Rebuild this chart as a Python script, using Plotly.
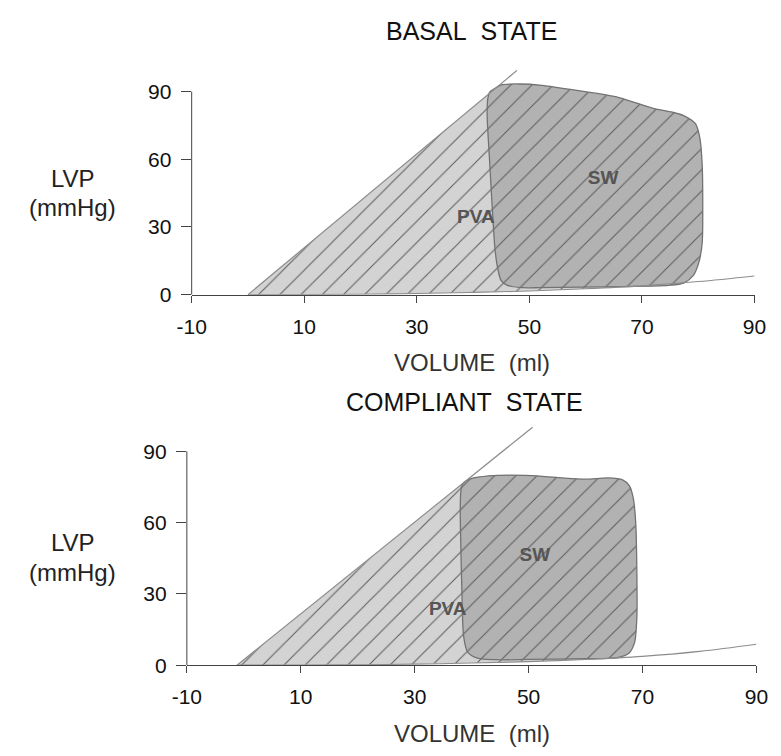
import plotly.graph_objects as go

# ---------------- data ----------------
x_ticks = [-10, 10, 30, 50, 70, 90]
x_tick_labels = ["-10", "10", "30", "50", "70", "90"]
y_ticks = [0, 30, 60, 90]
y_tick_labels = ["0", "30", "60", "90"]

# BASAL STATE
basal_v0 = 0.0            # ESPVR volume intercept (ml)
basal_ees = 2.08          # ESPVR slope (mmHg/ml)
basal_espvr_end = 47.8    # volume where drawn ESPVR line stops
basal_loop_v = [43.6, 45.0, 48.2, 52.2, 59.0, 65.9, 72.0, 75.4, 77.4, 79.5, 80.3, 80.7,
                80.8, 80.7, 80.1, 79.1, 77.4, 74.7, 66.0, 59.0, 52.0, 48.8, 46.1, 45.0,
                44.4, 43.9, 43.4, 42.9, 42.5, 42.6, 43.0]
basal_loop_p = [91.0, 93.0, 93.4, 92.8, 90.3, 87.4, 82.6, 80.9, 79.4, 75.8, 69.3, 57.7,
                40.0, 22.9, 14.2, 8.4, 5.1, 4.1, 3.6, 3.3, 3.1, 3.1, 4.1, 6.2,
                11.3, 20.0, 38.8, 60.6, 79.4, 86.7, 90.0]
basal_edpvr_v = [0, 10, 20, 30, 40, 50, 60, 70, 80, 90]
basal_edpvr_p = [0.0, 0.05, 0.2, 0.5, 1.0, 1.6, 2.6, 3.9, 5.8, 8.3]
basal_pva_label = (40.5, 34)
basal_sw_label = (63.1, 51)

# COMPLIANT STATE
comp_v0 = -1.2
comp_ees = 1.93
comp_espvr_end = 50.7
comp_loop_v = [38.4, 40.0, 43.0, 47.0, 52.0, 56.0, 60.0, 64.0, 66.5, 67.7, 68.4, 68.8,
               69.0, 69.0, 68.6, 67.6, 65.6, 60.0, 50.0, 44.0, 41.0, 39.3, 38.6, 38.3,
               38.1, 38.0, 38.1]
comp_loop_p = [76.2, 78.6, 79.7, 80.0, 79.6, 78.8, 78.3, 78.8, 78.0, 75.5, 70.0, 60.0,
               40.0, 20.0, 9.5, 5.0, 3.2, 2.7, 2.4, 2.3, 3.0, 5.5, 12.0, 30.0,
               50.0, 65.0, 73.0]
comp_edpvr_v = [-1.2, 10, 20, 30, 40, 50, 60, 70, 80, 90]
comp_edpvr_p = [0.0, 0.05, 0.2, 0.45, 0.9, 1.5, 2.4, 3.7, 5.8, 8.8]
comp_pva_label = (35.8, 23)
comp_sw_label = (51.1, 46)

# ---------------- styling ----------------
FONT = "Liberation Sans, Arial, Helvetica, sans-serif"
LIGHT = "#d3d3d3"
DARK = "#b2b2b2"
HATCH = "#5c5c5c"
OUTLINE = "#727272"
CURVE = "#8c8c8c"
W, H = 781, 756

fig = go.Figure()


def add_panel(xa, ya, v0, ees, v_end, lv, lp, ev, ep, pva_lab, sw_lab):
    lv = list(lv); lp = list(lp)
    # bottom-right corner of the loop: right-most low-pressure point
    low = [i for i in range(len(lv)) if lp[i] < 10]
    k = max(low, key=lambda i: lv[i])
    # PVA polygon: ESPVR up to the end-systolic corner, down the loop's left
    # edge and along its bottom, then back along the EDPVR
    order = [0] + list(range(len(lv) - 1, k - 1, -1))
    px = [v0] + [lv[i] for i in order]
    py = [0.0] + [lp[i] for i in order]
    back = [(v, p) for v, p in zip(ev, ep) if v < lv[k]][::-1]
    px += [b[0] for b in back]
    py += [b[1] for b in back]
    pat = dict(shape="/", size=15, solidity=0.068, fgcolor=HATCH, fillmode="replace")
    fig.add_trace(go.Scatter(x=px, y=py, mode="lines", fill="toself",
                             line=dict(width=0, color=LIGHT),
                             fillpattern=dict(pat, bgcolor=LIGHT),
                             xaxis=xa, yaxis=ya, hoverinfo="skip", showlegend=False))
    fig.add_trace(go.Scatter(x=lv + [lv[0]], y=lp + [lp[0]], mode="lines", fill="toself",
                             line=dict(width=1.3, color=OUTLINE, shape="spline", smoothing=0.8),
                             fillpattern=dict(pat, bgcolor=DARK),
                             xaxis=xa, yaxis=ya, hoverinfo="skip", showlegend=False))
    # ESPVR line
    fig.add_trace(go.Scatter(x=[v0, v_end], y=[0, ees * (v_end - v0)], mode="lines",
                             line=dict(width=1.2, color=CURVE),
                             xaxis=xa, yaxis=ya, hoverinfo="skip", showlegend=False))
    # EDPVR curve
    fig.add_trace(go.Scatter(x=ev, y=ep, mode="lines",
                             line=dict(width=1.1, color=CURVE, shape="spline"),
                             xaxis=xa, yaxis=ya, hoverinfo="skip", showlegend=False))
    # labels
    fig.add_trace(go.Scatter(x=[pva_lab[0], sw_lab[0]], y=[pva_lab[1], sw_lab[1]],
                             mode="text", text=["<b>PVA</b>", "<b>SW</b>"],
                             textfont=dict(family=FONT, size=19, color="#555555"),
                             xaxis=xa, yaxis=ya, hoverinfo="skip", showlegend=False))


add_panel("x", "y", basal_v0, basal_ees, basal_espvr_end, basal_loop_v, basal_loop_p,
          basal_edpvr_v, basal_edpvr_p, basal_pva_label, basal_sw_label)
add_panel("x2", "y2", comp_v0, comp_ees, comp_espvr_end, comp_loop_v, comp_loop_p,
          comp_edpvr_v, comp_edpvr_p, comp_pva_label, comp_sw_label)

# panel geometry (pixels)
top_x0, top_x1 = 183, 766
top_y0, top_py = 299, 206 / 90
bot_x0, bot_x1 = 178, 768
bot_y0, bot_py = 675, 217 / 90
YMAX = 102

xcommon = dict(range=[-10, 90], tickvals=x_ticks, ticktext=x_tick_labels,
               showline=True, linecolor="#444",
               linewidth=1, ticks="outside", ticklen=7, tickcolor="#444", tickwidth=1,
               showgrid=False, zeroline=False, ticklabelstandoff=6,
               tickfont=dict(family=FONT, size=21, color="#111"))
ycommon = dict(range=[0, YMAX], tickvals=y_ticks, ticktext=y_tick_labels, showline=False,
               ticks="outside", ticklen=10, tickcolor="#444", tickwidth=1,
               showgrid=False, zeroline=False, ticklabelstandoff=5,
               tickfont=dict(family=FONT, size=21, color="#111"))

fig.update_layout(
    width=W, height=H, margin=dict(l=0, r=0, t=0, b=0),
    paper_bgcolor="white", plot_bgcolor="white", showlegend=False,
    xaxis=dict(xcommon, domain=[top_x0 / W, top_x1 / W], anchor="y"),
    yaxis=dict(ycommon, domain=[(H - top_y0) / H, (H - (top_y0 - YMAX * top_py)) / H], anchor="x"),
    xaxis2=dict(xcommon, domain=[bot_x0 / W, bot_x1 / W], anchor="y2"),
    yaxis2=dict(ycommon, domain=[(H - bot_y0) / H, (H - (bot_y0 - YMAX * bot_py)) / H], anchor="x2"),
)

# y-axis lines from 0 to 90
fig.add_shape(type="line", xref="paper", yref="y", x0=top_x0 / W, x1=top_x0 / W, y0=0, y1=90,
              line=dict(color="#444", width=1))
fig.add_shape(type="line", xref="paper", yref="y2", x0=bot_x0 / W, x1=bot_x0 / W, y0=0, y1=90,
              line=dict(color="#444", width=1))

NB = "\u00a0"
def ann(text, xpx, ypx, size, color="#111"):
    fig.add_annotation(text=text, x=xpx / W, y=(H - ypx) / H, xref="paper", yref="paper",
                       showarrow=False, xanchor="center", yanchor="middle",
                       font=dict(family=FONT, size=size, color=color))

ann("BASAL" + NB * 2 + "STATE", 473, 31, 25)
ann("VOLUME" + NB * 2 + "(ml)", 473, 368, 24, "#333")
ann("COMPLIANT" + NB * 2 + "STATE", 466, 408, 25)
ann("VOLUME" + NB * 2 + "(ml)", 473, 744, 24, "#333")
ann("LVP", 60, 181, 24, "#222")
ann("(mmHg)", 60, 211, 24, "#222")
ann("LVP", 60, 551, 24, "#222")
ann("(mmHg)", 60, 581, 24, "#222")

fig.write_html("out.html", config={"displayModeBar": False},
               post_script="document.body.style.margin='0px';")
